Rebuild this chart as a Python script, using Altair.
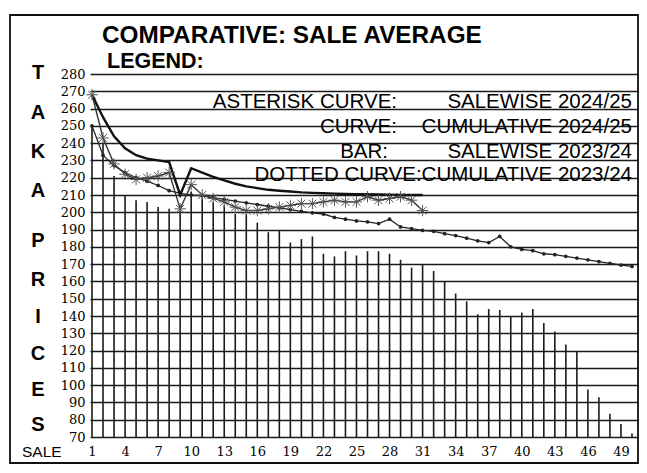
import altair as alt
import pandas as pd

# ---------------- data ----------------
sales = list(range(1, 51))
bar_2023 = [250, 240, 221, 210, 207, 206, 203, 202, 201, 212,
            208, 206, 204, 199, 199, 194, 188.5, 189.5, 182.5, 184.5,
            186, 176, 174.5, 177.5, 175, 177.5, 177.5, 176, 172.5, 168,
            170, 166, 160, 153, 148.5, 141, 144, 143.5, 140, 142,
            144, 136, 131, 123.5, 119.5, 97.5, 93, 83.5, 77.5, 72]
cum_2023 = [250, 233, 227, 223, 220, 218, 215.5, 212.5, 211, 210,
            209.5, 208.5, 207.5, 206.5, 205.5, 204.5, 203.5, 202.5, 201.5, 200.5,
            199.7, 199, 197, 196, 195, 194.5, 193.5, 196, 191.5, 190.5,
            189.5, 189, 187.6, 186.5, 185, 183.5, 182.5, 186, 180, 178.5,
            177.8, 176, 175.5, 174.5, 173.5, 172.5, 171.5, 170.5, 169.5, 168.7]
sale_2024 = [268, 243, 228, 222, 219, 220, 221, 223, 202, 216,
             210, 208, 206, 203, 201, 201, 202, 203, 204, 205,
             205, 206, 207, 206, 206, 209, 207, 208, 209, 207, 201]
cum_2024 = [268, 255, 244, 237, 233, 231, 230, 229, 210, 225.5,
            223, 220.5, 218.5, 216.5, 215, 214, 213, 212.5, 212, 211.5,
            211.2, 211, 210.8, 210.6, 210.5, 210.4, 210.3, 210.2, 210.1, 210, 210]
y_ticks = list(range(70, 290, 10))
x_ticks = list(range(1, 50, 3))

df_bar = pd.DataFrame({"sale": sales, "price": bar_2023})
df_c23 = pd.DataFrame({"sale": sales, "price": cum_2023})
df_s24 = pd.DataFrame({"sale": sales[:len(sale_2024)], "price": sale_2024})
df_c24 = pd.DataFrame({"sale": sales[:len(cum_2024)], "price": cum_2024})

# ---------------- scales / axes ----------------
W, H = 549, 363
xs = alt.Scale(domain=[0.8185, 50.637], nice=False, zero=False)
ys = alt.Scale(domain=[70, 280], nice=False, zero=False)

X = alt.X("sale:Q", scale=xs, axis=alt.Axis(
    values=x_ticks, title=None, grid=False, domain=False, ticks=False,
    labelFont="DejaVu Serif", labelFontSize=13, labelPadding=8,
    labelColor="black", labelFlush=False))
Y = alt.Y("price:Q", scale=ys, axis=alt.Axis(
    values=y_ticks, title=None, grid=True, gridColor="#1a1a1a", gridWidth=1.6,
    domain=False, ticks=False, labelFont="DejaVu Serif", labelFontSize=13,
    labelPadding=5, labelColor="black", labelFlush=False))

bars = alt.Chart(df_bar).mark_rule(color="#1a1a1a", strokeWidth=1.6).encode(
    x=X, y=Y, y2=alt.datum(70))

c23_line = alt.Chart(df_c23).mark_line(color="#222", strokeWidth=1.3).encode(x=X, y=Y)
c23_pts = alt.Chart(df_c23).mark_point(shape="circle", filled=True, color="#222",
                                       size=14, opacity=1).encode(x=X, y=Y)

s24_line = alt.Chart(df_s24).mark_line(color="#333", strokeWidth=1.4).encode(x=X, y=Y)
ast = "M-1,0L1,0M0,-1L0,1M-0.7,-0.7L0.7,0.7M-0.7,0.7L0.7,-0.7"
s24_pts = alt.Chart(df_s24).mark_point(shape=ast, filled=False, color="#555",
                                       size=130, strokeWidth=1, opacity=1).encode(x=X, y=Y)

c24_line = alt.Chart(df_c24).mark_line(color="#111", strokeWidth=2.4).encode(x=X, y=Y)

one = alt.Data(values=[{"a": 1}])


def txt(s, x, y, size, align="left", font="Liberation Sans", weight="normal"):
    return alt.Chart(one).mark_text(
        text=s, align=align, baseline="alphabetic", font=font, fontSize=size,
        fontWeight=weight, color="black").encode(x=alt.value(x), y=alt.value(y))


frame = alt.Chart(one).mark_rect(filled=False, stroke="#111", strokeWidth=1.8).encode(
    x=alt.value(-80), x2=alt.value(548), y=alt.value(-59), y2=alt.value(389))

texts = [
    txt("COMPARATIVE: SALE AVERAGE", 12, -31, 24.3, weight="bold"),
    txt("LEGEND:", 17, -6, 21.5, weight="bold"),
    txt("ASTERISK CURVE:", 307, 34, 20.5, align="right"),
    txt("SALEWISE 2024/25", 542, 34, 20.5, align="right"),
    txt("CURVE:", 307, 59, 20.5, align="right"),
    txt("CUMULATIVE 2024/25", 542, 59, 20.5, align="right"),
    txt("BAR:", 298, 84, 20.5, align="right"),
    txt("SALEWISE 2023/24", 542, 84, 20.5, align="right"),
    txt("DOTTED CURVE:CUMULATIVE 2023/24", 542, 107, 20.5, align="right"),
    txt("SALE", -68, 383, 15.5),
]
letters = ["T", "A", "K", "A", "P", "R", "I", "C", "E", "S"]
letter_y = [5, 45, 84, 123, 173, 212, 249, 286, 322, 357]
for ch, yy in zip(letters, letter_y):
    texts.append(txt(ch, -52, yy, 20, align="center", weight="bold"))

chart = alt.layer(
    bars, c23_line, c23_pts, c24_line, s24_line, s24_pts, frame, *texts
).properties(
    width=W, height=H,
    padding={"left": 82, "top": 66, "right": 0, "bottom": 28},
    autosize=alt.AutoSizeParams(type="none"),
    background="white",
).configure_view(stroke=None)

chart.save("out.html", embed_options={"renderer": "svg", "actions": False})
